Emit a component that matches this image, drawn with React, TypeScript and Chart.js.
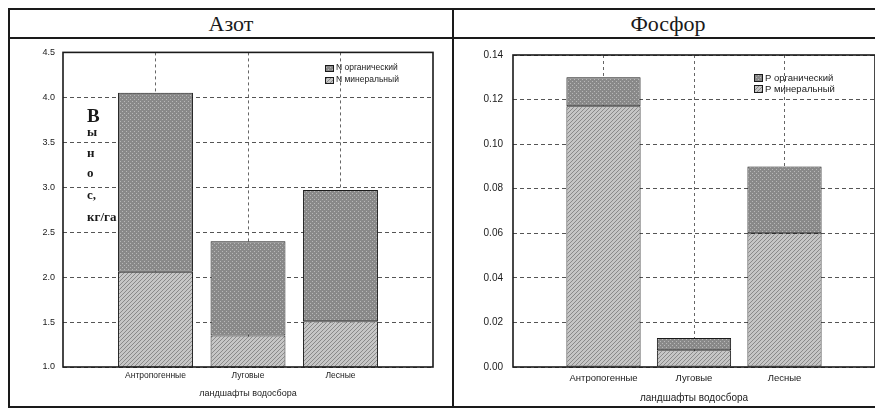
import React, { useEffect, useRef } from 'react';
import { Chart, registerables } from 'chart.js';

Chart.register(...registerables);

// ---------- data ----------
const categories = ['Антропогенные', 'Луговые', 'Лесные'];
const xAxisTitle = 'ландшафты водосбора';

const nTitle = 'Азот';
const nMineral = [2.06, 1.35, 1.51];
const nOrganic = [1.99, 1.05, 1.46];
const nLabels = ['N минеральный', 'N органический'];
const nYMin = 1.0;
const nYMax = 4.5;
const nYStep = 0.5;
const nYLabelLines = ['В', 'ы', 'н', 'о', 'с,', 'кг/га'];

const pTitle = 'Фосфор';
const pMineral = [0.117, 0.0075, 0.06];
const pOrganic = [0.013, 0.0055, 0.03];
const pLabels = ['P минеральный', 'P органический'];
const pYMin = 0;
const pYMax = 0.14;
const pYStep = 0.02;

// ---------- styling helpers ----------
const INK = '#1a1a1a';
const SANS = '"Liberation Sans", Arial, sans-serif';
const SERIF = '"Liberation Serif", "DejaVu Serif", "Times New Roman", serif';

function makePattern(ctx: CanvasRenderingContext2D, base: string, mark: string, kind: 'dots' | 'diag') {
  const t = document.createElement('canvas');
  t.width = 4;
  t.height = 4;
  const c = t.getContext('2d')!;
  c.fillStyle = base;
  c.fillRect(0, 0, 4, 4);
  c.fillStyle = mark;
  if (kind === 'dots') {
    c.fillRect(0, 0, 1, 1);
    c.fillRect(2, 2, 1, 1);
  } else {
    c.fillRect(0, 3, 1, 1);
    c.fillRect(1, 2, 1, 1);
    c.fillRect(2, 1, 1, 1);
    c.fillRect(3, 0, 1, 1);
  }
  return ctx.createPattern(t, 'repeat') as CanvasPattern;
}

const decorPlugin = {
  id: 'decor',
  beforeDatasetsDraw(chart: any, _args: any, opts: any) {
    const lines: string[] = opts.yLabelLines || [];
    if (!lines.length) return;
    const { ctx, chartArea: a } = chart;
    ctx.save();
    ctx.fillStyle = INK;
    ctx.textBaseline = 'middle';
    ctx.textAlign = 'left';
    lines.forEach((t, i) => {
      ctx.font = `bold ${i === 0 ? 19 : 13}px ${SERIF}`;
      ctx.fillText(t, a.left + opts.yLabelX, a.top + opts.yLabelY[i]);
    });
    ctx.restore();
  },
  afterDatasetsDraw(chart: any, _args: any, opts: any) {
    const { ctx, chartArea: a } = chart;
    ctx.save();
    ctx.strokeStyle = INK;
    ctx.lineWidth = 1.6;
    ctx.strokeRect(a.left, a.top, a.right - a.left, a.bottom - a.top);
    const ds = chart.data.datasets.slice().reverse();
    ctx.font = `${opts.legendFont}px ${SANS}`;
    ctx.textBaseline = 'middle';
    ctx.textAlign = 'left';
    ds.forEach((d: any, i: number) => {
      const x = Math.round(a.right + opts.legendX);
      const y = Math.round(a.top + opts.legendY + i * opts.legendGap);
      const top = y - Math.round(opts.boxH / 2);
      ctx.fillStyle = d.backgroundColor;
      ctx.fillRect(x, top, opts.boxW, opts.boxH);
      ctx.lineWidth = 1;
      ctx.strokeStyle = INK;
      ctx.strokeRect(x + 0.5, top + 0.5, opts.boxW, opts.boxH);
      ctx.fillStyle = INK;
      ctx.fillText(d.label, x + opts.boxW + 3, y);
    });
    ctx.restore();
  },
};

interface PanelCfg {
  mineral: number[];
  organic: number[];
  labels: string[];
  yMin: number;
  yMax: number;
  yStep: number;
  yDigits: number;
  yWidth: number;
  yPad: number;
  yFont: number;
  padTop: number;
  padRight: number;
  xHeight: number;
  xPad: number;
  xFont: number;
  xTitleFont: number;
  xTitlePad: number;
  barPct: number;
  decor: any;
}

function buildChart(canvas: HTMLCanvasElement, cfg: PanelCfg) {
  const ctx = canvas.getContext('2d')!;
  const light = makePattern(ctx, '#c6c6c6', '#8a8a8a', 'diag');
  const dark = makePattern(ctx, '#898989', '#b8b8b8', 'dots');
  const toPts = (arr: number[]) => arr.map((v, i) => ({ x: i + 1, y: v }));
  return new Chart(canvas, {
    type: 'bar',
    data: {
      datasets: [
        {
          label: cfg.labels[0],
          data: toPts(cfg.mineral) as any,
          backgroundColor: light as any,
          borderColor: INK,
          borderWidth: 1,
          borderSkipped: false,
        },
        {
          label: cfg.labels[1],
          data: toPts(cfg.organic) as any,
          backgroundColor: dark as any,
          borderColor: INK,
          borderWidth: 1,
          borderSkipped: false,
        },
      ],
    },
    options: {
      animation: false,
      responsive: false,
      events: [],
      layout: { padding: { top: cfg.padTop, right: cfg.padRight, left: 0, bottom: 0 } },
      datasets: { bar: { categoryPercentage: 1, barPercentage: cfg.barPct } },
      plugins: {
        legend: { display: false },
        tooltip: { enabled: false },
        decor: cfg.decor,
      } as any,
      scales: {
        x: {
          type: 'linear',
          stacked: true,
          offset: false,
          min: 0,
          max: categories.length + 1,
          afterFit: (s: any) => {
            s.height = cfg.xHeight;
          },
          ticks: {
            stepSize: 1,
            autoSkip: false,
            maxRotation: 0,
            padding: cfg.xPad,
            color: INK,
            font: { family: SANS, size: cfg.xFont },
            callback: (v: any) => categories[Number(v) - 1] ?? '',
          },
          grid: {
            offset: false,
            drawTicks: false,
            lineWidth: 1,
            color: (c: any) =>
              c.tick && (c.tick.value === 0 || c.tick.value === categories.length + 1) ? 'rgba(0,0,0,0)' : '#666',
          },
          border: { display: false, dash: [3, 3] },
          title: {
            display: true,
            text: xAxisTitle,
            color: INK,
            font: { family: SANS, size: cfg.xTitleFont },
            padding: { top: 0, bottom: cfg.xTitlePad },
          },
        } as any,
        y: {
          stacked: true,
          min: cfg.yMin,
          max: cfg.yMax,
          afterFit: (s: any) => {
            s.width = cfg.yWidth;
          },
          ticks: {
            stepSize: cfg.yStep,
            padding: cfg.yPad,
            color: INK,
            font: { family: SANS, size: cfg.yFont },
            callback: (v: any) => Number(v).toFixed(cfg.yDigits),
          },
          grid: { drawTicks: false, lineWidth: 1, color: '#555' },
          border: { display: false, dash: [4, 3] },
        } as any,
      },
    },
    plugins: [decorPlugin as any],
  });
}

const LINE = `2px solid ${INK}`;

export default function App() {
  const leftRef = useRef<HTMLCanvasElement>(null);
  const rightRef = useRef<HTMLCanvasElement>(null);

  useEffect(() => {
    const c1 = buildChart(leftRef.current!, {
      mineral: nMineral,
      organic: nOrganic,
      labels: nLabels,
      yMin: nYMin,
      yMax: nYMax,
      yStep: nYStep,
      yDigits: 1,
      yWidth: 53,
      yPad: 8,
      yFont: 9,
      padTop: 11,
      padRight: 19,
      xHeight: 39,
      xPad: 4,
      xFont: 8.5,
      xTitleFont: 9,
      xTitlePad: 7,
      barPct: 0.81,
      decor: {
        yLabelLines: nYLabelLines,
        yLabelX: 24,
        yLabelY: [65, 80, 101, 121, 143, 165],
        legendX: -108,
        legendY: 16,
        legendGap: 12,
        boxW: 8,
        boxH: 6,
        legendFont: 8.5,
      },
    });
    const c2 = buildChart(rightRef.current!, {
      mineral: pMineral,
      organic: pOrganic,
      labels: pLabels,
      yMin: pYMin,
      yMax: pYMax,
      yStep: pYStep,
      yDigits: 2,
      yWidth: 59,
      yPad: 10,
      yFont: 10,
      padTop: 9,
      padRight: 7,
      xHeight: 39,
      xPad: 6,
      xFont: 9.5,
      xTitleFont: 10,
      xTitlePad: 2,
      barPct: 0.82,
      decor: {
        yLabelLines: [],
        legendX: -121,
        legendY: 23,
        legendGap: 11,
        boxW: 8,
        boxH: 7,
        legendFont: 9.5,
      },
    });
    return () => {
      c1.destroy();
      c2.destroy();
    };
  }, []);

  const titleStyle: React.CSSProperties = {
    height: 27,
    borderBottom: LINE,
    display: 'flex',
    alignItems: 'center',
    justifyContent: 'center',
    fontFamily: SERIF,
    fontSize: 22,
    color: INK,
    lineHeight: '27px',
  };

  return (
    <div
      style={{
        width: 872,
        height: 396,
        borderTop: LINE,
        borderLeft: LINE,
        borderBottom: LINE,
        display: 'flex',
        background: '#fff',
      }}
    >
      <div style={{ width: 442, borderRight: LINE, display: 'flex', flexDirection: 'column' }}>
        <div style={titleStyle}>{nTitle}</div>
        <canvas ref={leftRef} width={442} height={367} style={{ display: 'block' }} />
      </div>
      <div style={{ width: 428, display: 'flex', flexDirection: 'column' }}>
        <div style={titleStyle}>{pTitle}</div>
        <canvas ref={rightRef} width={428} height={367} style={{ display: 'block' }} />
      </div>
    </div>
  );
}
